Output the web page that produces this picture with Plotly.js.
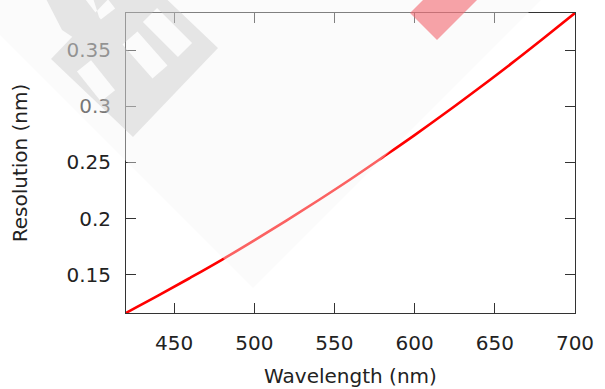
<!DOCTYPE html>
<html>
<head>
<meta charset="utf-8">
<script src="https://cdn.plot.ly/plotly-3.0.1.min.js"></script>
<style>html,body{margin:0;padding:0;background:#fff;}#chart{width:605px;height:389px;}</style>
</head>
<body>
<div id="chart"></div>
<script>
// ---- data ----
const wavelength = [420, 440, 460, 480, 500, 520, 540, 560, 580, 600, 620, 640, 660, 680, 700];
const resolution = [0.116, 0.1313, 0.1472, 0.1635, 0.1806, 0.1982, 0.2163, 0.235, 0.2545, 0.2743, 0.2948, 0.316, 0.3377, 0.3601, 0.383];
const xTickVals = [450, 500, 550, 600, 650, 700];
const yTickVals = [0.15, 0.2, 0.25, 0.3, 0.35];
const yTickText = ['0.15', '0.2', '0.25', '0.3', '0.35'];

// ---- decoration (watermark) helpers, in page pixels ----
const M = {l: 126, r: 30, t: 13, b: 76};
const W = 605, H = 389;
const PW = W - M.l - M.r, PH = H - M.t - M.b;
function px(p) { return [(p[0] - M.l) / PW, (H - M.b - p[1]) / PH]; }
function area(poly) { let s = 0; for (let i = 0; i < poly.length; i++) { const a = poly[i], b = poly[(i + 1) % poly.length]; s += a[0] * b[1] - b[0] * a[1]; } return s / 2; }
function orient(poly, cw) { const a = area(poly); return ((a > 0) === cw) ? poly : poly.slice().reverse(); }
function sub(poly) { return 'M' + poly.map(p => { const q = px(p); return q[0].toFixed(4) + ',' + q[1].toFixed(4); }).join('L') + 'Z'; }
function slot(p1, p2, w) {
  const dx = p2[0] - p1[0], dy = p2[1] - p1[1], L = Math.hypot(dx, dy);
  const nx = -dy / L * w / 2, ny = dx / L * w / 2;
  return [[p1[0] + nx, p1[1] + ny], [p2[0] + nx, p2[1] + ny], [p2[0] - nx, p2[1] - ny], [p1[0] - nx, p1[1] - ny]];
}
const logoOuter = [[51, 59], [136, -30], [218, 48], [133, 137]];
const logoBand = [[44, -5], [92, -5], [100, 20], [80, 42], [62, 30]];
const logoHoles = [slot([150, 15], [185, 50], 20), slot([130, 38], [160, 72], 20), slot([84, 66], [108, 96], 18), slot([88, -12], [108, 14], 18)];
let logoPath = sub(orient(logoOuter, true)) + sub(orient(logoBand, true));
logoHoles.forEach(h => { logoPath += sub(orient(h, false)); });
const pinkPoly = [[437, 40], [480, -3], [426, -3], [410, 13]];
const diamond = [[253, 288], [543, -2], [253, -292], [-37, -2]];

const font = 'DejaVu Sans, Verdana, sans-serif';

const trace = {
  x: wavelength, y: resolution, type: 'scatter', mode: 'lines',
  line: {color: '#ff0000', width: 2.6, shape: 'spline'}, hoverinfo: 'skip', showlegend: false
};

const layout = {
  width: W, height: H,
  margin: {l: M.l, r: M.r, t: M.t, b: M.b, pad: 0},
  paper_bgcolor: '#ffffff', plot_bgcolor: 'rgba(0,0,0,0)',
  font: {family: font, color: '#222', size: 20},
  showlegend: false,
  xaxis: {
    range: [420, 700], tickvals: xTickVals, ticks: 'inside', ticklen: 10, tickwidth: 1, tickcolor: '#333',
    showline: true, linecolor: '#333', linewidth: 1, mirror: 'ticks', showgrid: false, zeroline: false,
    tickfont: {family: font, size: 20, color: '#222'}, ticklabelstandoff: 12, automargin: false,
    title: {text: 'Wavelength (nm)', font: {family: font, size: 20, color: '#222'}, standoff: 14}
  },
  yaxis: {
    range: [0.1159, 0.383], tickvals: yTickVals, ticktext: yTickText, ticks: 'inside', ticklen: 10, tickwidth: 1, tickcolor: '#333',
    showline: true, linecolor: '#333', linewidth: 1, mirror: 'ticks', showgrid: false, zeroline: false,
    tickfont: {family: font, size: 20, color: '#222'}, ticklabelstandoff: 10, automargin: false,
    title: {text: 'Resolution (nm)', font: {family: font, size: 20, color: '#222'}, standoff: 33}
  },
  shapes: [
    {type: 'path', xref: 'paper', yref: 'paper', path: logoPath, fillrule: 'nonzero', fillcolor: 'rgba(160,160,160,0.38)', line: {width: 0}, layer: 'above'},
    {type: 'path', xref: 'paper', yref: 'paper', path: sub(pinkPoly), fillcolor: 'rgba(241,8,24,0.6)', line: {width: 0}, layer: 'above'},
    {type: 'path', xref: 'paper', yref: 'paper', path: sub(diamond), fillcolor: 'rgba(246,246,246,0.4)', line: {width: 0}, layer: 'above'}
  ]
};

Plotly.newPlot('chart', [trace], layout, {staticPlot: true, displayModeBar: false});
</script>
</body>
</html>
